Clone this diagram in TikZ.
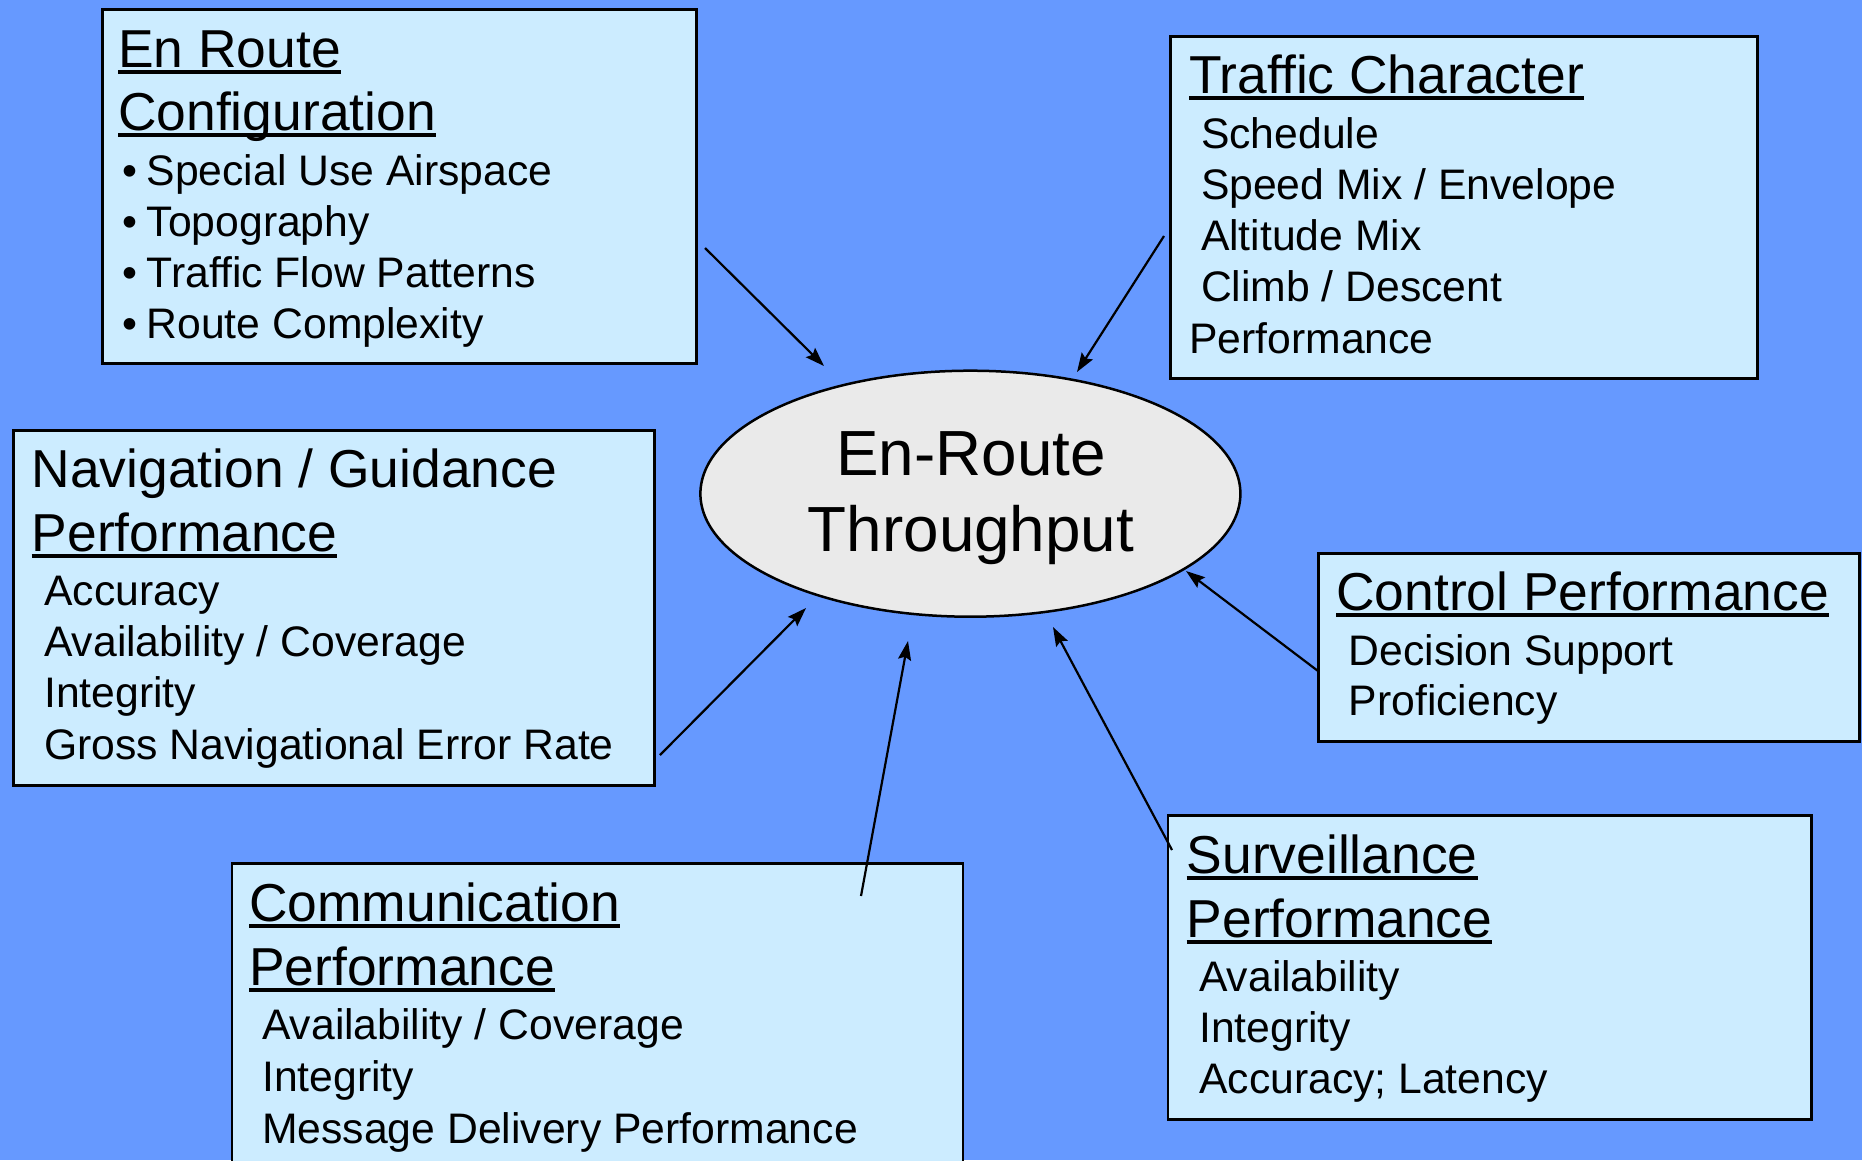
\documentclass[tikz,border=0pt]{standalone}
\usepackage{fontspec}
\setmainfont{Liberation Sans}
\usetikzlibrary{arrows.meta,shapes.geometric}
\definecolor{bgblue}{HTML}{6699FF}
\definecolor{boxfill}{HTML}{CCECFF}
\definecolor{ovalfill}{HTML}{EAEAEA}
\newsavebox\ulinebox
% underline with a fixed offset below the baseline
\newcommand\ulined[1]{\sbox\ulinebox{#1}\rlap{\rule[-6.6pt]{\wd\ulinebox}{4pt}}\usebox\ulinebox}
\newcommand\bul{\makebox[24.5pt][l]{•}}

\begin{document}
\begin{tikzpicture}[x=1pt,y=-1pt,
  panel/.style={draw=black, line width=2.5pt, fill=boxfill, rectangle, anchor=north west, inner sep=0pt},
  oval/.style={draw=black, line width=2.5pt, fill=ovalfill, ellipse, inner sep=0pt},
  ttl/.style={anchor=base west, inner sep=0pt, font=\fontsize{53.4}{63}\selectfont},
  itm/.style={anchor=base west, inner sep=0pt, font=\fontsize{42.7}{51}\selectfont},
  big/.style={anchor=base, inner sep=0pt, font=\fontsize{63.8}{75}\selectfont},
  arr/.style={line width=2.2pt, -{Stealth[length=19pt,width=13pt,inset=3pt]}}]

\useasboundingbox (0,0) rectangle (1862,1160);
\clip (0,0) rectangle (1862,1160);
\fill[bgblue] (0,0) rectangle (1862,1160);

% factor panels
\node[panel, minimum width=594pt, minimum height=354pt] (cfg) at (101,8) {};
\node[panel, minimum width=587pt, minimum height=342pt] (trf) at (1169,35) {};
\node[panel, minimum width=641pt, minimum height=355pt] (nav) at (12,429) {};
\node[panel, minimum width=541pt, minimum height=188pt] (ctl) at (1317,552) {};
\node[panel, minimum width=643.5pt, minimum height=304pt] (srv) at (1166.5,814) {};
\node[panel, minimum width=731pt, minimum height=340pt] (com) at (230.7,862) {};

% En Route Configuration
\node[ttl] (cfgA) at (118,67) {\ulined{En Route}};
\node[ttl] (cfgB) at (118,130) {\ulined{Configuration}};
\node[itm] (cfg1) at (122,185) {\bul Special Use Airspace};
\node[itm] (cfg2) at (122,236) {\bul Topography};
\node[itm] (cfg3) at (122,287) {\bul Traffic Flow Patterns};
\node[itm] (cfg4) at (122,338) {\bul Route Complexity};

% Traffic Character
\node[ttl] (trfA) at (1189,93) {\ulined{Traffic Character}};
\node[itm] (trf1) at (1200.8,148) {Schedule};
\node[itm] (trf2) at (1200.8,199) {Speed Mix / Envelope};
\node[itm] (trf3) at (1200.8,250) {Altitude Mix};
\node[itm] (trf4) at (1200.8,301) {Climb / Descent};
\node[itm] (trf5) at (1189,353) {Performance};

% Navigation / Guidance Performance
\node[ttl] (navA) at (31.5,487) {Navigation / Guidance};
\node[ttl] (navB) at (31.5,551) {\ulined{Performance}};
\node[itm] (nav1) at (44,605) {Accuracy};
\node[itm] (nav2) at (44,656) {Availability / Coverage};
\node[itm] (nav3) at (44,707) {Integrity};
\node[itm] (nav4) at (44,759) {Gross Navigational Error Rate};

% Control Performance
\node[ttl] (ctlA) at (1336,610) {\ulined{Control Performance}};
\node[itm] (ctl1) at (1348.5,665) {Decision Support};
\node[itm] (ctl2) at (1348.5,715) {Proficiency};

% Surveillance Performance
\node[ttl] (srvA) at (1186.5,873) {\ulined{Surveillance}};
\node[ttl] (srvB) at (1186.5,937) {\ulined{Performance}};
\node[itm] (srv1) at (1199,991) {Availability};
\node[itm] (srv2) at (1199,1042) {Integrity};
\node[itm] (srv3) at (1199,1093) {Accuracy; Latency};

% Communication Performance
\node[ttl] (comA) at (249,921) {\ulined{Communication}};
\node[ttl] (comB) at (249,985) {\ulined{Performance}};
\node[itm] (com1) at (262,1039) {Availability / Coverage};
\node[itm] (com2) at (262,1091) {Integrity};
\node[itm] (com3) at (262,1143) {Message Delivery Performance};

% central outcome
\node[oval, minimum width=540pt, minimum height=246pt] (thr) at (970.4,493.7) {};
\node[big] (thrA) at (971,475) {En-Route};
\node[big] (thrB) at (971,551) {Throughput};

% connector end points
\coordinate (cfgOut) at (705,248);   \coordinate (thrNW) at (824,366);
\coordinate (trfOut) at (1164,236);  \coordinate (thrNE) at (1077,372);
\coordinate (navOut) at (660,755);   \coordinate (thrSW) at (806,608);
\coordinate (comOut) at (861,896);   \coordinate (thrS)  at (908,641);
\coordinate (srvOut) at (1172,850);  \coordinate (thrSE) at (1053,627);
\coordinate (ctlOut) at (1318,671);  \coordinate (thrE)  at (1186,571);

\draw[arr] (cfgOut) -- (thrNW);
\draw[arr] (trfOut) -- (thrNE);
\draw[arr] (navOut) -- (thrSW);
\draw[arr] (comOut) -- (thrS);
\draw[arr] (srvOut) -- (thrSE);
\draw[arr] (ctlOut) -- (thrE);
\end{tikzpicture}
\end{document}
